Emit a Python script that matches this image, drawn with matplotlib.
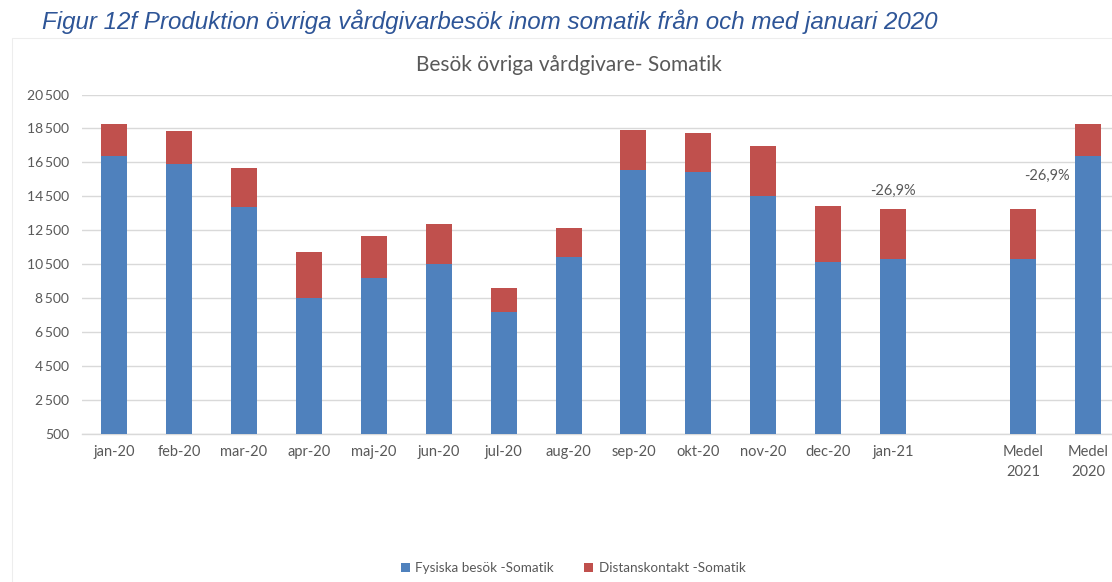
import matplotlib
matplotlib.use("Agg")
import matplotlib.pyplot as plt
from matplotlib.ticker import FuncFormatter, FixedLocator
from matplotlib.patches import Rectangle

categories = ["jan-20", "feb-20", "mar-20", "apr-20", "maj-20", "jun-20", "jul-20",
              "aug-20", "sep-20", "okt-20", "nov-20", "dec-20", "jan-21", "",
              "Medel\n2021", "Medel\n2020"]
fysiska = [16880, 16430, 13880, 8550, 9710, 10510, 7690, 10920, 16070, 15940, 14510,
           10650, 10800, None, 10800, 16880]
distans = [1900, 1940, 2310, 2690, 2470, 2390, 1450, 1700, 2350, 2310, 2980,
           3270, 2940, None, 2940, 1900]
y_ticks = list(range(500, 20501, 2000))
annotations = [(12, "-26,9%"), (14, "-26,9%")]

blue = "#4F81BD"
red = "#C0504D"
gray = "#595959"
fam = ["Lato", "DejaVu Sans"]

fig = plt.figure(figsize=(11.12, 5.82), dpi=100)
fig.patch.set_facecolor("white")

# faint chart-area border
fig.patches.append(Rectangle((12 / 1112, -0.01), 1.1, (582 - 38) / 582 + 0.01,
                             transform=fig.transFigure, fill=False,
                             edgecolor="#EDEDED", linewidth=0.8))

ax = fig.add_axes([81.5 / 1112, (582 - 434.3) / 582, 1039 / 1112, 339.8 / 582])

xs = [i for i, v in enumerate(fysiska) if v is not None]
fv = [fysiska[i] for i in xs]
dv = [distans[i] for i in xs]
base = 500
ax.bar(xs, [v - base for v in fv], bottom=base, width=0.4, color=blue,
       label="Fysiska besök -Somatik", zorder=3)
ax.bar(xs, dv, bottom=fv, width=0.4, color=red,
       label="Distanskontakt -Somatik", zorder=3)

ax.set_xlim(-0.5, len(categories) - 0.5)
ax.set_ylim(y_ticks[0], y_ticks[-1])
ax.yaxis.set_major_locator(FixedLocator(y_ticks))
ax.yaxis.set_major_formatter(FuncFormatter(lambda v, p: f"{int(v):,}".replace(",", "\u2009")))
ax.grid(axis="y", color="#D9D9D9", linewidth=1, zorder=0)
ax.set_axisbelow(True)
for s in ["top", "right", "left"]:
    ax.spines[s].set_visible(False)
ax.spines["bottom"].set_color("#D9D9D9")
ax.spines["bottom"].set_linewidth(1)

ax.set_xticks(range(len(categories)))
ax.set_xticklabels(categories, fontsize=10.5, color=gray, family=fam, linespacing=1.5,
                   va="top")
ax.tick_params(axis="x", length=0, pad=8)
ax.tick_params(axis="y", length=0, pad=9, labelsize=10, labelcolor=gray)
for lbl in ax.get_yticklabels():
    lbl.set_family(fam)

# annotations
i0, t0 = annotations[0]
ax.annotate(t0, xy=(i0, fysiska[i0] + distans[i0]), xytext=(0, 8), textcoords="offset points",
            ha="center", va="bottom", fontsize=10.5, color=gray, family=fam)
i1, t1 = annotations[1]
ax.annotate(t1, xy=(i1, fysiska[i1] + distans[i1]), xytext=(17, 19), textcoords="offset points",
            ha="center", va="bottom", fontsize=10.5, color=gray, family=fam)

ax.set_title("Besök övriga vårdgivare- Somatik", fontsize=15, color=gray, family=fam,
             pad=17, x=(569 - 81.5) / 1039)

fig.text(42 / 1112, 1 - 22 / 582, "Figur 12f Produktion övriga vårdgivarbesök inom somatik från och med januari 2020",
         fontsize=17.4, style="italic", color="#2E5597", family=["Liberation Sans", "DejaVu Sans"],
         va="center", ha="left")

leg = fig.legend(loc="center", bbox_to_anchor=(573 / 1112, 1 - 568 / 582), ncol=2, frameon=False,
                 handlelength=0.7, handleheight=0.7, handletextpad=0.4,
                 columnspacing=2.2, prop={"family": fam, "size": 9.7})
for t in leg.get_texts():
    t.set_color(gray)

fig.savefig("out.png", dpi=100)
